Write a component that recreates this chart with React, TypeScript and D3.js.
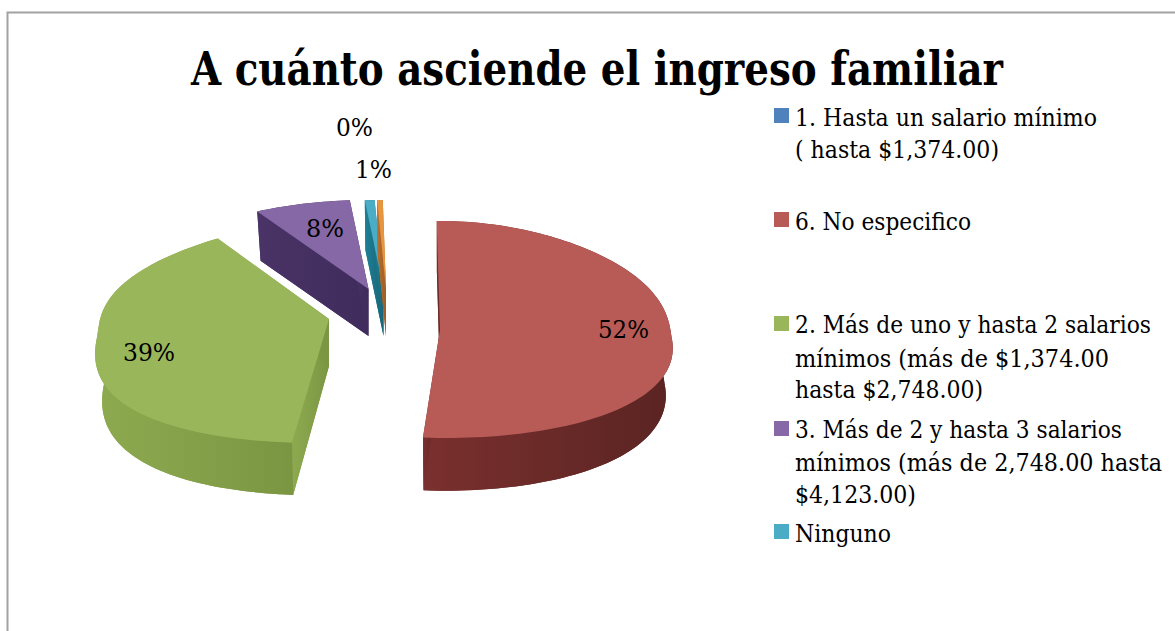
import { line, pie, range } from "d3";

const WIDTH = 1175;
const HEIGHT = 631;
const FONT = "'DejaVu Serif Condensed', 'DejaVu Serif', serif";

// slice order as the pie runs clockwise from the top
const shares = [0, 52, 39, 8.2, 0.85, 0.49];
const topColors = ["#4f81bd", "#b85b57", "#99b75a", "#8768a6", "#4bacc6", "#e8953f"];
const wallColors = [
  ["#3a608d", "#2f4f75"],
  ["#7a302e", "#5a2422"],
  ["#8eaa50", "#7a9642"],
  ["#4a3366", "#3f2c5c"],
  ["#1f7f96", "#176577"],
  ["#b9702e", "#9c5c22"],
];

// where each exploded slice has its tip and how its rim is warped on screen
const tipX = [440, 440, 329, 368.5, 383.5, 386];
const tipY = [330, 330, 319, 289, 289, 289];
const reachBack = [109, 109, 96, 89, 89, 89];
const reachFront = [108, 108, 124, 108, 108, 108];
const backPower = [0.68, 0.68, 0.6, 0.68, 0.68, 0.68];
const frontPower = [1, 1, 0.95, 1, 1, 1];
const sideDrop = [5, 5, 14, 0, 0, 0];
const frontLean = [6, 6, -14, 0, 0, 0];
const RADIUS_X = 231;
const DEPTH_BACK = 47;
const DEPTH_FRONT = 56;
const BOTTOM_SHRINK = 0.97;
const ROTATION = (-1 * Math.PI) / 180;

const percentLabels = ["0%", "1%", "8%", "39%", "52%"];
const percentX = [336, 355, 306, 123, 598];
const percentY = [136, 178, 237, 361, 338];
const percentW = [37, 37, 38, 52, 51];

const legendLines = [
  ["1. Hasta un salario mínimo", "( hasta $1,374.00)"],
  ["6. No especifico"],
  ["2. Más de uno y hasta 2 salarios", "mínimos (más de $1,374.00", "hasta $2,748.00)"],
  ["3. Más de 2 y hasta 3 salarios", "mínimos (más de 2,748.00 hasta", "$4,123.00)"],
  ["Ninguno"],
];
const legendWidths = [[302, 204], [176], [356, 314, 188], [327, 367, 121], [96]];
const legendSwatchY = [108, 212, 316, 421, 524];
const legendBaselines = [[126, 158], [230], [333, 367, 398], [438, 471, 503], [542]];

const slices = pie<number>().sort(null).startAngle(ROTATION).endAngle(ROTATION + Math.PI * 2)(shares);
const path = line<[number, number]>();

function rim(i: number, angle: number, shrink: number, isLower: boolean): [number, number] {
  const sin = Math.sin(angle);
  const cos = Math.cos(angle);
  // x narrows towards the back, like the perspective of the original
  const squeeze = cos > 0 ? 1 - 0.2 * cos : 1 - 0.1 * cos;
  const lean = cos < 0 ? frontLean[i] * -cos : 0;
  const along = cos > 0 ? -reachBack[i] * cos ** backPower[i] : reachFront[i] * (-cos) ** frontPower[i];
  const depth = isLower ? DEPTH_BACK + (DEPTH_FRONT - DEPTH_BACK) * Math.max(0, -cos) : 0;
  return [
    tipX[i] + (RADIUS_X * sin * squeeze + lean) * shrink,
    tipY[i] + (along + sideDrop[i] * sin * sin) * shrink + depth,
  ];
}

function sweep(a0: number, a1: number) {
  const steps = Math.max(2, Math.ceil((a1 - a0) / 0.03));
  return range(steps + 1).map((s) => a0 + ((a1 - a0) * s) / steps);
}

function Slice({ index, a0, a1 }: { index: number; a0: number; a1: number }) {
  const angles = sweep(a0, a1);
  const tip: [number, number] = [tipX[index], tipY[index]];
  const tipLow: [number, number] = [tipX[index], tipY[index] + DEPTH_BACK];
  const upper = angles.map((a) => rim(index, a, 1, false));
  const lower = angles.map((a) => rim(index, a, BOTTOM_SHRINK, true));
  const wall = `url(#wall-${index})`;
  return (
    <g>
      <path d={path([tipLow, ...lower]) + "Z"} fill={wall} />
      <path d={path([...upper, ...[...lower].reverse()]) + "Z"} fill={wall} />
      <path d={path([tip, upper[0], lower[0], tipLow]) + "Z"} fill={wall} />
      <path d={path([tip, upper[upper.length - 1], lower[lower.length - 1], tipLow]) + "Z"} fill={wall} />
      <path d={path([tip, ...upper]) + "Z"} fill={topColors[index]} />
    </g>
  );
}

export default function App() {
  return (
    <svg
      width={WIDTH}
      height={HEIGHT}
      viewBox={`0 0 ${WIDTH} ${HEIGHT}`}
      style={{ position: "absolute", left: 0, top: 0, background: "#fff" }}
      fontFamily={FONT}
    >
      <defs>
        {wallColors.map(([from, to], i) => (
          <linearGradient key={i} id={`wall-${i}`} x1="0" x2="1" y1="0" y2="0">
            <stop offset="0" stopColor={from} />
            <stop offset="1" stopColor={to} />
          </linearGradient>
        ))}
      </defs>

      <path d={`M7.5,${HEIGHT}V12.5H${WIDTH}`} fill="none" stroke="#a2a2a2" strokeWidth={2} />

      <text x={191} y={85} fontSize={46} fontWeight="bold" fill="#000" textLength={812} lengthAdjust="spacingAndGlyphs">
        A cuánto asciende el ingreso familiar
      </text>

      {slices.map((s, i) =>
        s.value > 0 ? <Slice key={i} index={i} a0={s.startAngle} a1={s.endAngle} /> : null
      )}

      {percentLabels.map((label, i) => (
        <text key={label} x={percentX[i]} y={percentY[i]} fontSize={25} fill="#000" textLength={percentW[i]} lengthAdjust="spacingAndGlyphs">
          {label}
        </text>
      ))}

      {legendLines.map((lines, i) => (
        <g key={i}>
          <rect x={774} y={legendSwatchY[i]} width={15} height={15} fill={topColors[i]} />
          {lines.map((text, j) => (
            <text
              key={j}
              x={795}
              y={legendBaselines[i][j]}
              fontSize={25}
              fill="#000"
              textLength={legendWidths[i][j]}
              lengthAdjust="spacingAndGlyphs"
            >
              {text}
            </text>
          ))}
        </g>
      ))}
    </svg>
  );
}
